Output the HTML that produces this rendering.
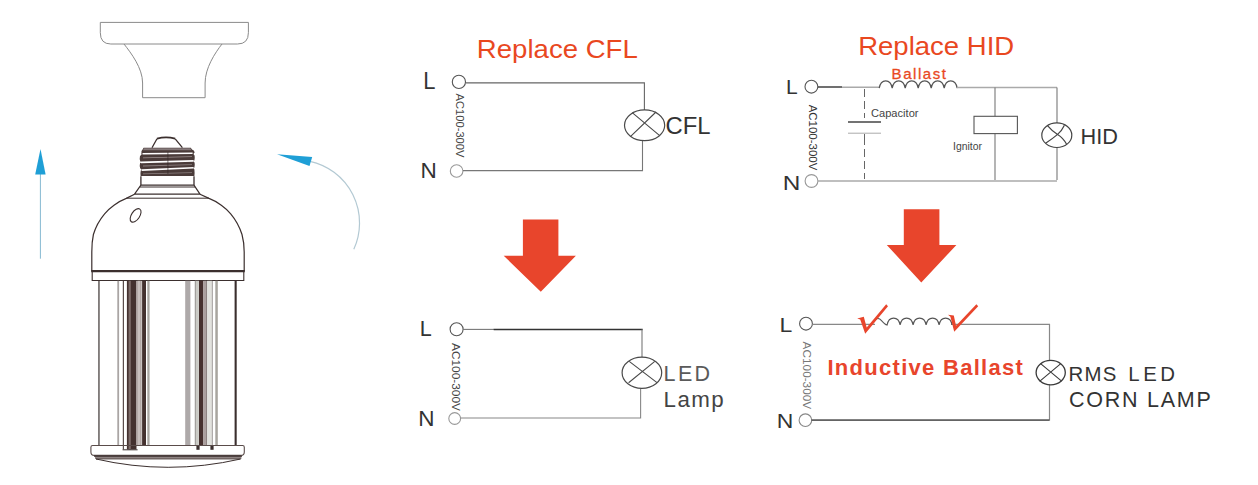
<!DOCTYPE html>
<html><head><meta charset="utf-8"><title>Replace CFL / HID</title>
<style>
html,body{margin:0;padding:0;background:#fff;}
body{width:1258px;height:485px;overflow:hidden;}
svg{display:block;}
text{font-family:"Liberation Sans",Arial,sans-serif;}
</style></head><body>
<svg width="1258" height="485" viewBox="0 0 1258 485">
<rect width="1258" height="485" fill="#fff"/>

<!-- ===== socket ===== -->
<g id="socket" fill="none" stroke="#8a8a8a" stroke-width="1">
<path d="M100.3 22.4H248.4V32.7Q248.4 44 237.5 44H110.8Q100.3 44 100.3 32.7Z"/>
<path d="M124 44C131 53 142.6 68 142.6 83V97.7H205.1V83C205.1 68 215 53 222 44"/>
</g>

<!-- ===== blue arrows ===== -->
<g id="arrows">
<line x1="40.4" y1="174" x2="40.4" y2="258.7" stroke="#86b9d2" stroke-width="1"/>
<path d="M40.5 148.9L45.6 174.5H35.2Z" fill="#1f9fd6"/>
<path d="M310 161.4A63 63 0 0 1 353.8 249.2" fill="none" stroke="#b3c9d3" stroke-width="1.2"/>
<path d="M277 154.3L312.2 156.9L309.5 165.9Z" fill="#1f9fd6"/>
</g>

<!-- ===== lamp ===== -->
<g id="lamp" fill="none" stroke="#3b2f2e" stroke-width="1.2">
<!-- tip -->
<path d="M157 138.6Q166 136.2 175.2 138.6" stroke-width="1.8"/>
<path d="M157 138.8L152 147.7M175.2 138.8L182.4 147.7" stroke-width="1.3"/>
<!-- thread -->
<g stroke="none">
<path d="M143.6 147.7H190.8L192 149.5Q194.8 150.5 194.6 152.8Q192.6 153.6 194.6 155.6Q195 158.5 194.4 160.4Q192.8 161 194.6 162.6Q195 165.5 194.4 167.4Q192.8 168 194.4 169.6Q194.8 173 194.4 176.1H140.6Q140.2 173 140.8 170.4Q142.4 169.4 140.2 168.4Q139.4 165.5 140 163.2Q142.2 162.2 140.2 161.2Q139.4 158.5 140 156Q142.2 155 141.4 153.6Q141 150.5 142.6 149.5Z" fill="#4a3b39"/>
<path d="M144 148.3H190.4L191.4 150.2H143Z" fill="#85797a"/>
<path d="M142.5 153L192.6 152.4V153.9L142.5 154.5Z" fill="#fff"/>
<path d="M141 161.6L193.6 160V161.7L141 163.3Z" fill="#fff"/>
<path d="M141.6 169.2L193.6 167V168.6L141.6 170.9Z" fill="#fff"/>
<path d="M143 157.4L192 156.2V157L143 158.2Z" fill="#9b8f8e"/>
<path d="M143 165.6L192 164.3V165L143 166.4Z" fill="#8d8180"/>
<path d="M143 173.4L192 172.3V173L143 174.2Z" fill="#8d8180"/>
<rect x="167.4" y="152" width="1" height="22" fill="#2e2423" opacity=".6"/>
</g>
<!-- neck -->
<path d="M140.9 176.2V185.2M194 176.2V185.2M140.9 185.2H194" stroke-width="1.3"/><path d="M140 187H195" stroke-width="1"/>
<path d="M140.9 185.2L134.5 194.2H200L194 185.2"/>
<!-- dome -->
<path d="M126.3 198.2H209" stroke-width="1"/>
<path d="M134.5 194.2L126.3 198.4C118 201.5 109 208.5 104.6 213.8C99 220.5 95 229 93.4 234.5C92.2 240 91.8 246 91.8 252V271.2"/>
<path d="M200 194.2L209 198.4C217.3 201.5 226.3 208.5 230.7 213.8C236.3 220.5 240.3 229 242 234.5C243.5 240 244.2 246 244.2 252V271.2"/>
<path d="M91.2 271.2H244.8" stroke-width="2.2"/>
<path d="M92.2 271.2V280.5H243.8V271.2" stroke-width="1.1"/>
<ellipse cx="135.6" cy="215.4" rx="4.1" ry="7.6" transform="rotate(34 135.6 215.4)" stroke-width="1.1"/>
<!-- columns -->
<g stroke="none">
<rect x="98.3" y="280.8" width="1.3" height="164.8" fill="#4a4342"/>
<rect x="234.6" y="280.8" width="2.1" height="164.8" fill="#3b2f2e"/>
<!-- left group -->
<rect x="117.3" y="280.8" width="1.8" height="164.8" fill="#aaa5a4"/>
<rect x="122.8" y="280.8" width="1.1" height="168.6" fill="#4a3b39"/>
<rect x="126.9" y="280.8" width="9.6" height="168.6" fill="#44312f"/>
<rect x="128.6" y="280.8" width="2.2" height="168.6" fill="#7d6c69"/>
<rect x="136.5" y="280.8" width="5.2" height="164.8" fill="#b3a8a6"/>
<rect x="138.4" y="280.8" width="1.2" height="164.8" fill="#d5cdcb"/>
<rect x="142.1" y="280.8" width="3.9" height="164.8" fill="#44312f"/>
<rect x="147.3" y="280.8" width="2.3" height="164.8" fill="#a9a6a1"/>
<!-- right group -->
<rect x="185.2" y="280.8" width="5.2" height="164.8" fill="#aea9a9"/>
<rect x="195" y="280.8" width="3.9" height="164.8" fill="#cbcbc6"/>
<rect x="194.8" y="280.8" width="0.8" height="164.8" fill="#8a8583"/>
<rect x="199" y="280.8" width="4.4" height="164.8" fill="#47312f"/>
<rect x="203.4" y="280.8" width="3" height="164.8" fill="#ab9f9e"/>
<rect x="206.4" y="280.8" width="0.8" height="164.8" fill="#5a4b49"/>
<rect x="207.2" y="280.8" width="4.8" height="164.8" fill="#e2e2de"/>
<rect x="211.9" y="280.8" width="0.7" height="164.8" fill="#7d7674"/>
<rect x="215.3" y="280.8" width="2.5" height="164.8" fill="#a8a59f"/>
</g>
<!-- base -->
<path d="M122.6 449.8H137.6" stroke-width="1"/>
<rect x="196.4" y="445.6" width="3.2" height="4.2" fill="#3b2f2e" stroke="none"/>
<rect x="210.4" y="445.6" width="3.2" height="4.2" fill="#3b2f2e" stroke="none"/>
<path d="M92.6 445.5H242.6Q244.3 445.5 244.3 447.3V452Q244.3 455.4 240.8 455.4H94.4Q90.9 455.4 90.9 452V447.3Q90.9 445.5 92.6 445.5Z" stroke="#5a4c4a" stroke-width="1.1"/>
<path d="M95 457.5H241.4" stroke-width="3" stroke="#8e8382"/>
<path d="M94 456.1H242" stroke-width="1.2" stroke="#3b2f2e"/>
<path d="M96 459H240.4" stroke-width="0.8" stroke="#4a3b39"/>
<path d="M96 459Q168 475.6 240.6 459" stroke-width="1"/>
</g>

<!-- ===== Replace CFL ===== -->
<g id="cfl">
<text x="476.8" y="58.3" font-size="26.4" fill="#e9481f" textLength="161" lengthAdjust="spacingAndGlyphs">Replace CFL</text>
<text x="423.2" y="88.5" font-size="23" fill="#333" textLength="12.2" lengthAdjust="spacingAndGlyphs">L</text>
<text x="420.6" y="178.4" font-size="22.5" fill="#333">N</text>
<circle cx="458.9" cy="81.9" r="6.6" fill="#fff" stroke="#555" stroke-width="1.1"/>
<circle cx="456.6" cy="171" r="6.3" fill="#fff" stroke="#999" stroke-width="1.1"/>
<path d="M466 82.9H644.4V110" fill="none" stroke="#666" stroke-width="1.1"/>
<path d="M463 170.6H642.5V140" fill="none" stroke="#777" stroke-width="1.1"/>
<ellipse cx="644.6" cy="125.3" rx="20.1" ry="15.4" fill="none" stroke="#4a4a4a" stroke-width="1.2"/>
<path d="M632.2 112.6L660 135.8M656 112L630.4 136.6" fill="none" stroke="#4a4a4a" stroke-width="1.1"/>
<text x="665.6" y="133.9" font-size="23.5" fill="#333" textLength="45" lengthAdjust="spacingAndGlyphs">CFL</text>
<text transform="translate(455.6 93.5) rotate(90)" font-size="11" fill="#444" textLength="64" lengthAdjust="spacingAndGlyphs">AC100-300V</text>

<path d="M522.9 219.6H558.4V255.7H575.9L540.8 291.8L503.7 255.7H522.9Z" fill="#e8452c"/>

<text x="419.8" y="335.5" font-size="22.5" fill="#333" textLength="12" lengthAdjust="spacingAndGlyphs">L</text>
<text x="418.2" y="426" font-size="22.5" fill="#333">N</text>
<circle cx="456.6" cy="329.3" r="6.5" fill="#fff" stroke="#555" stroke-width="1.1"/>
<circle cx="454.7" cy="418.5" r="5.9" fill="#fff" stroke="#999" stroke-width="1.1"/>
<path d="M463 329.4H494" fill="none" stroke="#777" stroke-width="1.1"/>
<path d="M493.7 329.4H642.7" fill="none" stroke="#333" stroke-width="1.5"/><path d="M642 329.4V357.2" fill="none" stroke="#777" stroke-width="1.1"/>
<path d="M460.6 418H640.6V388.4" fill="none" stroke="#888" stroke-width="1.1"/>
<ellipse cx="641.9" cy="372.7" rx="19.8" ry="15.6" fill="none" stroke="#4a4a4a" stroke-width="1.2"/>
<path d="M629.2 361.4L657 382.6M654.8 361.4L628.6 382.8" fill="none" stroke="#4a4a4a" stroke-width="1.1"/>
<text x="663.6" y="380.7" font-size="21.5" fill="#5a5a5a" textLength="46.5" lengthAdjust="spacing">LED</text>
<text x="663.6" y="407" font-size="22.3" fill="#444" textLength="60" lengthAdjust="spacing">Lamp</text>
<text transform="translate(451.6 343) rotate(90)" font-size="11.5" fill="#444" textLength="68" lengthAdjust="spacingAndGlyphs">AC100-300V</text>
</g>

<!-- ===== Replace HID ===== -->
<g id="hid">
<text x="858.2" y="54.8" font-size="25.6" fill="#e9481f" textLength="156" lengthAdjust="spacingAndGlyphs">Replace HID</text>
<text x="891.6" y="78.7" font-size="15" fill="#e9481f" stroke="#e9481f" stroke-width="0.3" textLength="54.4" lengthAdjust="spacing">Ballast</text>
<text x="786" y="94" font-size="21" fill="#333">L</text>
<text x="782.8" y="190.2" font-size="20.5" fill="#333" textLength="17.6" lengthAdjust="spacingAndGlyphs">N</text>
<circle cx="811.4" cy="86.7" r="6.4" fill="#fff" stroke="#555" stroke-width="1.1"/>
<circle cx="811.5" cy="181" r="6.4" fill="#fff" stroke="#999" stroke-width="1.1"/>
<path d="M818 87H842" stroke="#333" stroke-width="1.4" fill="none"/>
<path d="M842 87.3H879.5" stroke="#aaa" stroke-width="1.6" fill="none"/>
<path d="M879.2 88.2 c1.6 -9.8 11.4 -9.8 13 0 c1.6 -9.8 11.4 -9.8 13 0 c1.6 -9.8 11.4 -9.8 13 0 c1.6 -9.8 11.4 -9.8 13 0 c1.6 -9.8 11.4 -9.8 13 0 c1.6 -9.8 11.4 -9.8 13 0" fill="none" stroke="#555" stroke-width="1.2" stroke-linejoin="miter"/>
<path d="M957 87.5H1057" stroke="#aaa" stroke-width="1.6" fill="none"/>
<path d="M818 181H1057" stroke="#aaa" stroke-width="1.4" fill="none"/>
<path d="M864.5 89V179" stroke="#666" stroke-width="1" stroke-dasharray="8 4" fill="none"/>
<rect x="846" y="118" width="37" height="19" fill="#fff"/>
<path d="M848 122H881" stroke="#444" stroke-width="1.5"/>
<path d="M848 133.2H881" stroke="#aaa" stroke-width="1"/>
<path d="M864.5 134V142" stroke="#666" stroke-width="1"/>
<text x="871" y="117.4" font-size="11" fill="#444" textLength="47.5" lengthAdjust="spacingAndGlyphs">Capacitor</text>
<path d="M995 87.4V180" stroke="#777" stroke-width="1.1" fill="none"/>
<rect x="974" y="116.3" width="43.4" height="17.3" fill="#fff" stroke="#555" stroke-width="1.1"/>
<text x="953" y="149.5" font-size="10.5" fill="#444" textLength="29" lengthAdjust="spacingAndGlyphs">Ignitor</text>
<path d="M1057 87.4V180" stroke="#777" stroke-width="1.1" fill="none"/>
<ellipse cx="1056.8" cy="135.2" rx="15" ry="12.3" fill="#fff" stroke="#444" stroke-width="1.2"/>
<path d="M1047.5 125.6Q1052 131 1057.6 134.4T1066.6 144.2M1064.4 125.2Q1062 130.5 1057.6 134.4T1045.6 143.2" stroke="#444" stroke-width="1.2" fill="none"/>
<text x="1080.6" y="144.2" font-size="22" fill="#333" textLength="37.4" lengthAdjust="spacingAndGlyphs">HID</text>
<text transform="translate(808.8 104.7) rotate(90)" font-size="11.5" fill="#333" textLength="65.6" lengthAdjust="spacingAndGlyphs">AC100-300V</text>

<path d="M903.8 209.3H939.4V244.9H956.4L921.3 282.6L886.8 244.9H903.8Z" fill="#e8452c"/>

<text x="779.4" y="331.8" font-size="20" fill="#333" textLength="12.8" lengthAdjust="spacingAndGlyphs">L</text>
<text x="776.8" y="428.4" font-size="20" fill="#333" textLength="16.6" lengthAdjust="spacingAndGlyphs">N</text>
<circle cx="806" cy="323.7" r="6.4" fill="#fff" stroke="#555" stroke-width="1.1"/>
<circle cx="805.4" cy="420.2" r="6.3" fill="#fff" stroke="#888" stroke-width="1.1"/>
<path d="M812.4 324.4H875M951 324.4H1049.5V420H811.5" fill="none" stroke="#888" stroke-width="1.2"/>
<path d="M811.5 420.1H1049.5" fill="none" stroke="#444" stroke-width="1.4"/>
<path d="M874.5 320.4 q3.5 -3.8 7 0.2 t5.6 4.4 c1.6 -9.2 11.4 -9.2 13 0 c1.6 -9.2 11.4 -9.2 13 0 c1.6 -9.2 11.4 -9.2 13 0 c1.6 -9.2 11.4 -9.2 13 0 c1.6 -9.2 11.4 -9.2 13 0" fill="none" stroke="#555" stroke-width="1.1"/>
<path d="M857.2 318.5L863.8 316.8L866.7 327.4L886.2 304.3L888 306.2L865.2 333.8L860.2 319.4Z" fill="#e8452c"/>
<path d="M948 314.8L953.8 315.4L956 325.8L976.4 304.3L978.2 306.2L954.2 331.8L950.4 316.8Z" fill="#e8452c"/>
<text x="827.4" y="375.2" font-size="22" font-weight="bold" fill="#e8452c" textLength="195.5" lengthAdjust="spacing">Inductive Ballast</text>
<ellipse cx="1050.7" cy="372.6" rx="14.6" ry="12.2" fill="#fff" stroke="#3a3a3a" stroke-width="1.3"/>
<path d="M1040.6 363.6L1061.6 381.2M1060.8 363.6L1039.6 381.4" stroke="#3a3a3a" stroke-width="1.1" fill="none"/>
<text y="380.6" font-size="20.4" fill="#333"><tspan x="1068.4" letter-spacing="1.3">RMS</tspan><tspan x="1128.2" letter-spacing="3.6">LED</tspan></text>
<text x="1069" y="407.3" font-size="21.5" fill="#333" letter-spacing="1.75">CORN LAMP</text>
<text transform="translate(803.2 341.6) rotate(90)" font-size="11" fill="#777" textLength="67.6" lengthAdjust="spacingAndGlyphs">AC100-300V</text>
</g>
</svg>
</body></html>
